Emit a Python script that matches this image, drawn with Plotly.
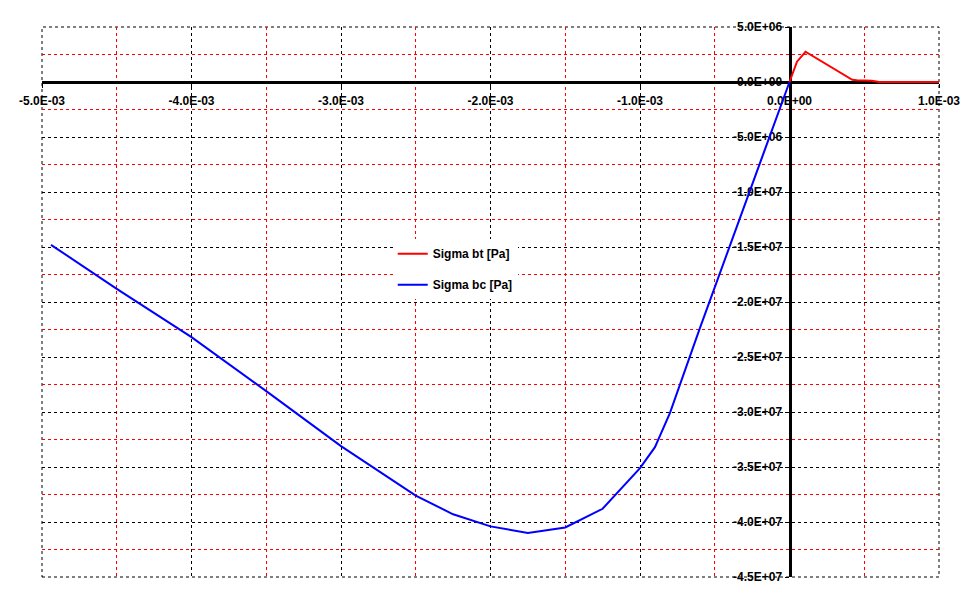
import plotly.graph_objects as go

# Data (x in m/m strain-like units, y in Pa)
bt_x = [0.0, 0.03e-3, 0.05e-3, 0.107e-3, 0.2e-3, 0.3e-3, 0.42e-3, 0.45e-3, 0.55e-3, 0.6e-3, 0.8e-3, 1.0e-3]
bt_y = [0.0, 1.2e6, 1.85e6, 2.75e6, 2.0e6, 1.15e6, 0.2e6, 0.15e6, 0.12e6, 0.0, 0.0, 0.0]

bc_x = [-4.94e-3, -4.5e-3, -4.0e-3, -3.5e-3, -3.0e-3, -2.5e-3, -2.25e-3, -2.0e-3, -1.75e-3,
        -1.5e-3, -1.25e-3, -1.0e-3, -0.9e-3, -0.8e-3, -0.6e-3, -0.4e-3, -0.2e-3, 0.0]
bc_y = [-14.8e6, -18.8e6, -23.2e6, -28.1e6, -33.1e6, -37.6e6, -39.3e6, -40.4e6, -41.0e6,
        -40.5e6, -38.8e6, -35.1e6, -33.2e6, -30.1e6, -22.4e6, -14.9e6, -7.5e6, 0.0]

x_tickvals = [-5e-3, -4e-3, -3e-3, -2e-3, -1e-3, 0.0, 1e-3]
x_ticktext = ["-5.0E-03", "-4.0E-03", "-3.0E-03", "-2.0E-03", "-1.0E-03", "0.0E+00", "1.0E-03"]
y_tickvals = [5e6, 0.0, -5e6, -10e6, -15e6, -20e6, -25e6, -30e6, -35e6, -40e6, -45e6]
y_ticktext = ["5.0E+06", "0.0E+00", "-5.0E+06", "-1.0E+07", "-1.5E+07", "-2.0E+07",
              "-2.5E+07", "-3.0E+07", "-3.5E+07", "-4.0E+07", "-4.5E+07"]

x_range = [-5e-3, 1e-3]
y_range = [-45e6, 5e6]

fig = go.Figure()
fig.add_trace(go.Scatter(x=bt_x, y=bt_y, mode="lines", name="Sigma bt [Pa]",
                         line=dict(color="#ff0000", width=2), legendgroup="a"))
fig.add_trace(go.Scatter(x=bc_x, y=bc_y, mode="lines", name="Sigma bc [Pa]",
                         line=dict(color="#0000ff", width=2), legendgroup="b"))

font = dict(family="Liberation Sans, Arial, sans-serif", size=12, color="black", weight="bold")

grid_dash = "3px,3px"

fig.update_layout(
    width=970, height=604,
    margin=dict(l=34, r=39, t=19, b=35, autoexpand=False),
    paper_bgcolor="white", plot_bgcolor="white",
    font=font,
    showlegend=True,
    legend=dict(x=0.391, y=0.614, xanchor="left", yanchor="top", bgcolor="white",
                tracegroupgap=12, font=font),
    xaxis=dict(
        range=x_range, tickvals=x_tickvals, ticktext=x_ticktext,
        anchor="free", position=0.9, automargin=False, layer="below traces",
        showline=True, linecolor="black", linewidth=3,
        ticks="outside", ticklen=4, tickcolor="black", tickwidth=1,
        ticklabelstandoff=3,
        showgrid=True, gridcolor="black", griddash=grid_dash, gridwidth=1,
        zeroline=False,
        minor=dict(dtick=0.5e-3, tick0=0, showgrid=True, gridcolor="#ff0000",
                   griddash=grid_dash, gridwidth=1),
    ),
    yaxis=dict(
        range=y_range, tickvals=y_tickvals, ticktext=y_ticktext,
        anchor="free", position=5/6, automargin=False, layer="below traces",
        showline=True, linecolor="black", linewidth=3,
        ticks="outside", ticklen=4, tickcolor="black", tickwidth=1,
        showgrid=True, gridcolor="black", griddash=grid_dash, gridwidth=1,
        zeroline=False,
        minor=dict(dtick=2.5e6, tick0=0, showgrid=True, gridcolor="#ff0000",
                   griddash=grid_dash, gridwidth=1),
    ),
    shapes=[dict(type="rect", xref="paper", yref="paper", x0=0, x1=1, y0=0, y1=1,
                 line=dict(color="black", width=1, dash=grid_dash), layer="below")],
)

fig.write_html("out.html")
